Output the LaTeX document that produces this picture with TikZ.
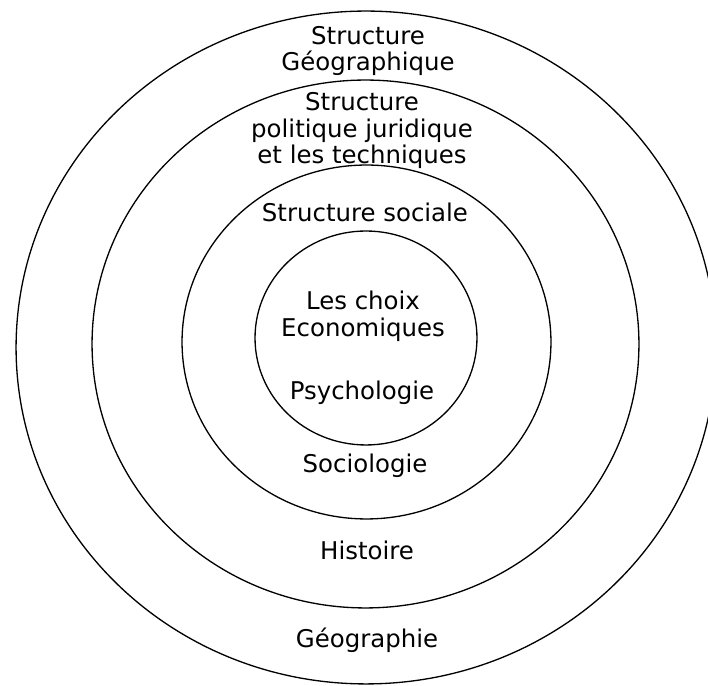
\documentclass[tikz,border=0pt]{standalone}
\usepackage{fontspec}
\setmainfont{DejaVu Sans}
\usetikzlibrary{shapes.geometric,positioning}
\tikzset{
    ring/.style={
    ellipse,draw=black,line width=0.75pt,inner sep=0pt,outer sep=0pt
    },
    txt/.style={
    align=center,inner sep=0pt,font=\fontsize{13.9}{15.2}\selectfont
    },
    base/.style={
    txt,anchor=base
    },
}

\begin{document}
\begin{tikzpicture}[x=0.02cm, y=0.02cm]
   \useasboundingbox (0,0) rectangle (708,686);
   \clip (0,0) rectangle (708,686);
   % rings
   \node[ring,minimum width=14cm,minimum height=13.46cm] (geo) at (366,338.5) {};
   \node[ring,minimum width=10.94cm,minimum height=10.56cm] (pol) at (365.5,342) {};
   \node[ring,minimum width=7.38cm,minimum height=7.08cm] (soc) at (366.5,344) {};
   \node[ring,minimum width=4.44cm,minimum height=4.28cm] (eco) at (366,348) {};
   % texts
   \node[txt] (tgeo) at (368,635) {Structure\\Géographique};
   \node[txt] (tpol) at (362,555.5) {Structure\\politique juridique\\et les techniques};
   \node[base] (tsoc) at (365,464) {Structure sociale};
   \node[txt] (teco) at (363,370) {Les choix\\Economiques};
   \node[base] (psy) at (362,286) {Psychologie};
   \node[base] (sociol) at (365,213) {Sociologie};
   \node[base] (hist) at (367,126) {Histoire};
   \node[base] (geog) at (367,38) {Géographie};
\end{tikzpicture}
\end{document}
